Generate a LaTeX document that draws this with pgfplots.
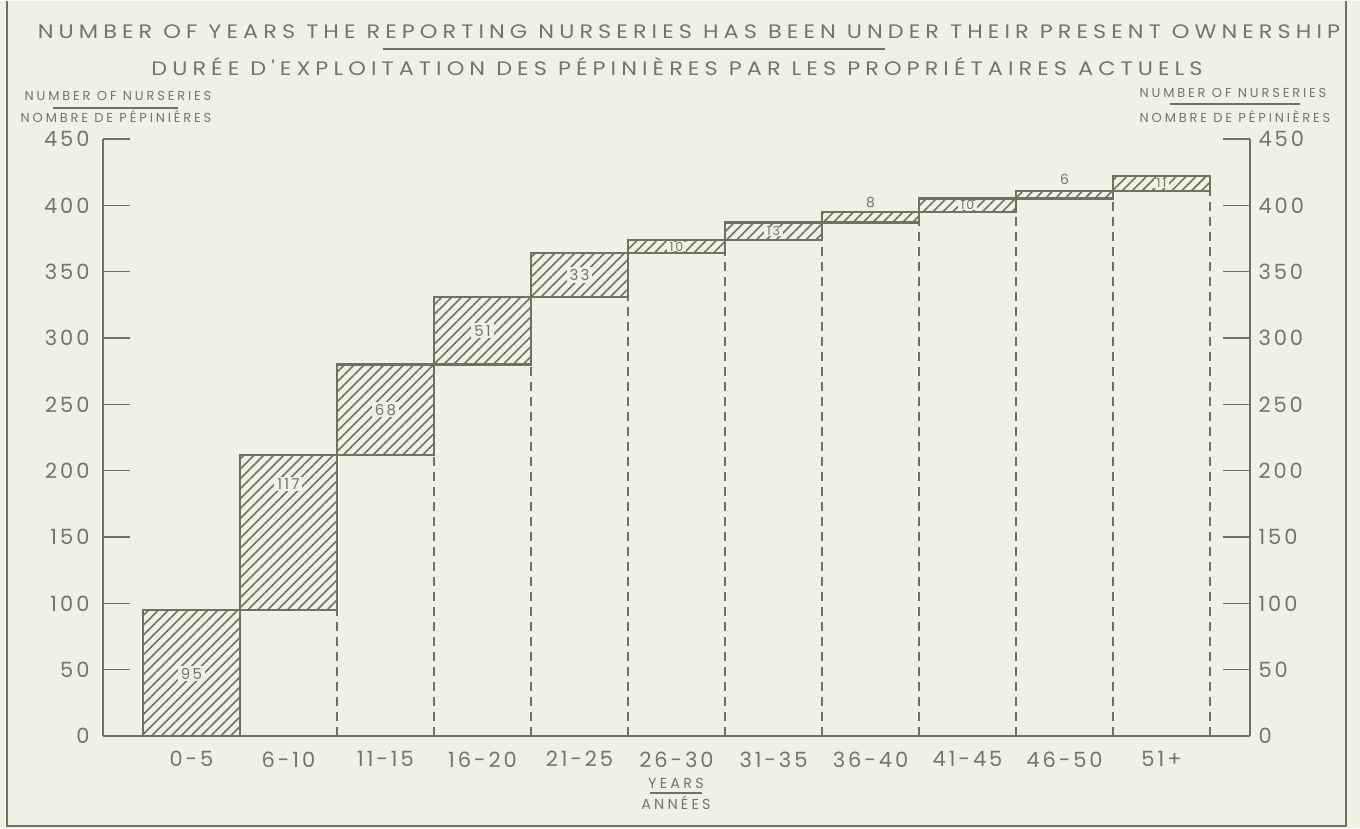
\documentclass[border=0pt]{standalone}
\usepackage{fontspec}
\setmainfont{Poppins}
\usepackage{pgfplots}
\pgfplotsset{compat=1.18}
\usetikzlibrary{patterns.meta}
\definecolor{bg}{RGB}{240,241,230}
\definecolor{ln}{RGB}{108,116,94}
\definecolor{tx}{RGB}{112,120,100}
\newfontfamily\lt[LetterSpace=14]{Poppins}
\newfontfamily\ttl[FakeStretch=1.15, LetterSpace=26]{Poppins}
\newfontfamily\sm[LetterSpace=22]{Poppins}
\begin{document}
\begin{tikzpicture}[x=1pt,y=1pt]
\fill[bg] (0,0) rectangle (1360,827);
\draw[ln, line width=2pt] (7,827) -- (7,2) -- (1346,2) -- (1346,827);
\pgfplotsset{common/.style={scale only axis, width=1147pt, height=597pt,
  at={(103pt,92pt)}, anchor=south west, xmin=-0.912, xmax=10.912, ymin=0, ymax=450,
  /pgf/number format/assume math mode=true,
  tick label style={font=\lt\fontsize{21}{21}\selectfont, text=tx},
  axis line style={ln, line width=2.4pt},
  major y tick style={ln, line width=1.6pt},
  tick align=inside, major tick length=27pt,
  ytick={0,50,...,450}}}
% bars
\begin{axis}[common, hide axis, ybar stacked, bar width=1]
\addplot[draw=none, fill=none] coordinates {(0,0)(1,95)(2,212)(3,280)(4,331)(5,364)(6,374)(7,387)(8,395)(9,405)(10,411)};
\addplot[draw=ln, line width=2.4pt, pattern={Lines[angle=45,distance=7pt,line width=1.6pt]}, pattern color=ln] coordinates {(0,95)(1,117)(2,68)(3,51)(4,33)(5,10)(6,13)(7,8)(8,10)(9,6)(10,11)};
\end{axis}
% left axis, dashed lines, labels
\begin{axis}[common, axis x line*=bottom, axis y line*=left,
  yticklabel style={xshift=-10pt},
  xticklabel style={yshift=-12pt},
  xtick={0,...,10}, xticklabels={0-5,6-10,11-15,16-20,21-25,26-30,31-35,36-40,41-45,46-50,51+},
  major x tick style={draw=none}, clip=false]
\addplot[ycomb, ln, line width=1.6pt, dash pattern=on 9pt off 6pt, mark=none] coordinates {(1.5,95)(2.5,212)(3.5,280)(4.5,331)(5.5,364)(6.5,374)(7.5,387)(8.5,395)(9.5,405)(10.5,411)};
% labels inside the tall bars
\addplot[draw=none, mark=none, nodes near coords, point meta=explicit symbolic,
  nodes near coords style={anchor=center, fill=bg, inner xsep=3pt, inner ysep=2pt, font=\lt\fontsize{15}{15}\selectfont, text=tx}]
  coordinates {(0,47)[95] (1,190)[117] (2,246)[68] (3,305.5)[51] (4,347.5)[33]};
% labels inside the thin bars
\addplot[draw=none, mark=none, nodes near coords, point meta=explicit symbolic,
  nodes near coords style={anchor=center, fill=bg, inner xsep=3pt, inner ysep=0pt, font=\lt\fontsize{12.5}{12.5}\selectfont, text=tx}]
  coordinates {(5,369)[10] (6,380.5)[13] (8,400)[10] (10,416.5)[11]};
% labels above the thinnest bars
\addplot[draw=none, mark=none, nodes near coords, point meta=explicit symbolic,
  nodes near coords style={anchor=center, inner sep=1pt, font=\lt\fontsize{14}{14}\selectfont, text=tx}]
  coordinates {(7,402.5)[8] (9,419.5)[6]};
\end{axis}
% right axis
\begin{axis}[common, axis y line*=right, hide x axis, yticklabel style={xshift=5pt}]
\end{axis}
% texts
\begin{scope}[every node/.style={text=tx, inner sep=0pt}]
\node[anchor=base, font=\ttl\fontsize{19.5}{19.5}\selectfont] at (689,789) {NUMBER OF YEARS THE REPORTING NURSERIES HAS BEEN UNDER THEIR PRESENT OWNERSHIP};
\node[anchor=base, font=\ttl\fontsize{19.5}{19.5}\selectfont] at (677,752) {DURÉE D'EXPLOITATION DES PÉPINIÈRES PAR LES PROPRIÉTAIRES ACTUELS};
\draw[ln, line width=1.4pt] (383,779) -- (885,779);
\node[anchor=base, font=\sm\fontsize{13}{13}\selectfont] at (118,727) {NUMBER OF NURSERIES};
\draw[ln, line width=1.2pt] (53,720) -- (178,720);
\node[anchor=base, font=\sm\fontsize{13}{13}\selectfont] at (116,705) {NOMBRE DE PÉPINIÈRES};
\node[anchor=base, font=\sm\fontsize{13}{13}\selectfont] at (1233,730) {NUMBER OF NURSERIES};
\draw[ln, line width=1.2pt] (1170,724) -- (1300,724);
\node[anchor=base, font=\sm\fontsize{13}{13}\selectfont] at (1235,705) {NOMBRE DE PÉPINIÈRES};
\node[anchor=base, font=\sm\fontsize{14.5}{14.5}\selectfont] at (676,40) {YEARS};
\draw[ln, line width=1.2pt] (650,35) -- (702,35);
\node[anchor=base, font=\sm\fontsize{14.5}{14.5}\selectfont] at (676,19) {ANNÉES};
\end{scope}
\end{tikzpicture}
\end{document}
